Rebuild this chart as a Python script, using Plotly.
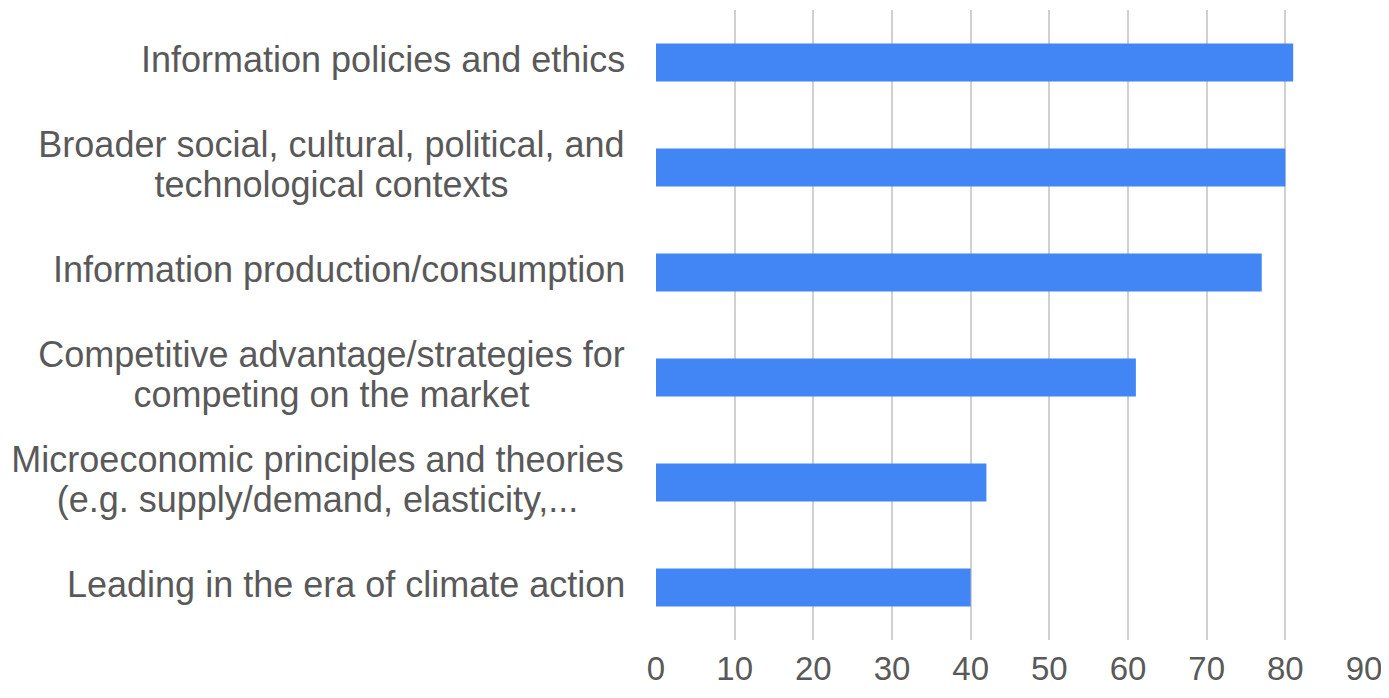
import plotly.graph_objects as go

categories = [
    "Information policies and ethics",
    "Broader social, cultural, political, and<br>technological contexts",
    "Information production/consumption",
    "Competitive advantage/strategies for<br>competing on the market",
    "Microeconomic principles and theories<br>(e.g. supply/demand, elasticity,...",
    "Leading in the era of climate action",
]
values = [81, 80, 77, 61, 42, 40]
tick_vals = [0, 10, 20, 30, 40, 50, 60, 70, 80, 90]

FONT = "Liberation Sans, Arial, sans-serif"
TEXT = "#595959"
FS = 36
LINE = 40
# text box widths (px) used to centre the lines of two-line labels
BOX_W = {1: 587, 3: 587, 4: 615}

fig = go.Figure(go.Bar(
    x=values, y=categories, orientation="h",
    marker=dict(color="#4285F4", line=dict(width=0)),
    width=0.36,
))

annotations = []
for k, c in enumerate(categories):
    lines = c.split("<br>")
    n = len(lines)
    for i, ln in enumerate(lines):
        shift = ((n - 1) / 2 - i) * LINE
        a = dict(text=ln, x=0, xref="paper", y=c, yref="y", xanchor="right",
                 yanchor="middle", xshift=-29, yshift=shift + 3, align="center",
                 showarrow=False, font=dict(family=FONT, size=FS, color=TEXT))
        if k in BOX_W:
            a["width"] = BOX_W[k]
        annotations.append(a)

fig.update_layout(
    width=1373, height=682,
    margin=dict(l=648, r=17, t=2, b=50, autoexpand=False),
    paper_bgcolor="white", plot_bgcolor="white",
    showlegend=False,
    annotations=annotations,
    xaxis=dict(range=[0, 90], tickvals=tick_vals, showgrid=True, gridcolor="#d0d0d0",
               gridwidth=2, zeroline=False, showline=False, ticks="",
               tickfont=dict(family=FONT, size=33, color=TEXT), ticklabelstandoff=6,
               ticklabeloverflow="allow", automargin=False, fixedrange=True),
    yaxis=dict(categoryorder="array", categoryarray=categories, autorange="reversed",
               showticklabels=False, showgrid=False, zeroline=False, showline=False,
               ticks="", automargin=False),
)
fig.write_html("out.html")
